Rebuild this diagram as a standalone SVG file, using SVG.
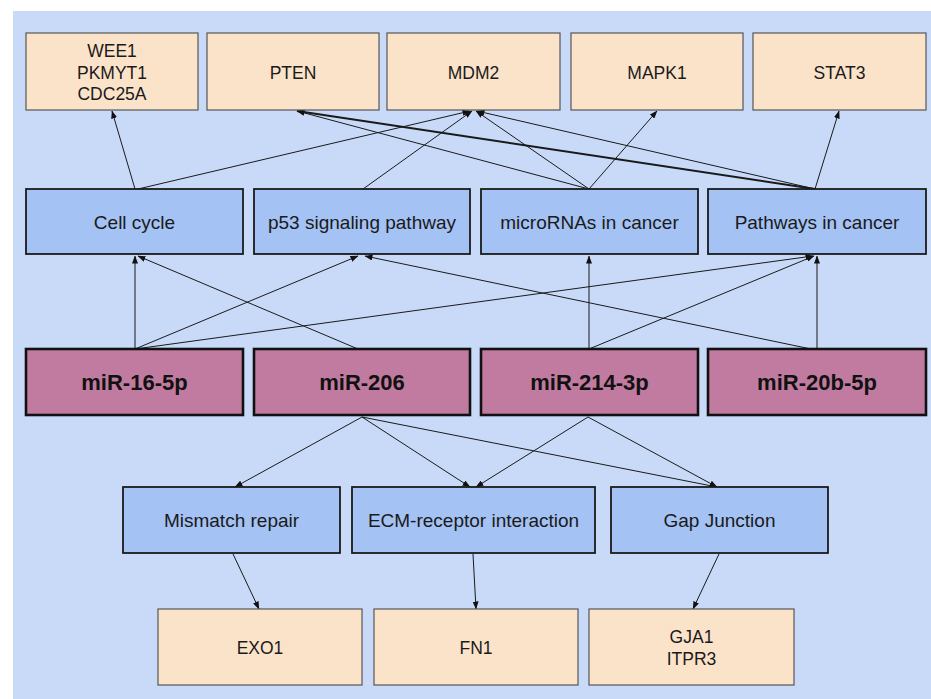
<svg xmlns="http://www.w3.org/2000/svg" width="931" height="699" viewBox="0 0 931 699">
<defs>
<marker id="ah" markerWidth="8" markerHeight="6" refX="7.5" refY="3" orient="auto" markerUnits="userSpaceOnUse">
<path d="M0,0 L8,3 L0,6 z" fill="#111"/>
</marker>
<style>
.gene{fill:#fbe3ca;stroke:#555;stroke-width:1.2}
.path{fill:#a4c2f4;stroke:#1a1a1a;stroke-width:1.8}
.mir{fill:#c27ba0;stroke:#111;stroke-width:2.6}
.tg{font-family:"Liberation Sans",Arial,sans-serif;font-size:17.5px;fill:#1a1a1a;text-anchor:middle}
.tp{font-family:"Liberation Sans",Arial,sans-serif;font-size:19px;fill:#1a1a1a;text-anchor:middle}
.tm{font-family:"Liberation Sans",Arial,sans-serif;font-size:22px;font-weight:bold;fill:#111;text-anchor:middle}
#edges line{stroke:#1a1a1a;stroke-width:1;marker-end:url(#ah)}
</style>
</defs>
<rect x="0" y="0" width="931" height="699" fill="#ffffff"/>
<rect x="13" y="11" width="918" height="688" fill="#c9daf8"/>

<g id="edges">
<line x1="135" y1="189" x2="112" y2="111"/>
<line x1="138" y1="189" x2="470" y2="111"/>
<line x1="363" y1="189" x2="472" y2="111"/>
<line x1="589" y1="189" x2="476" y2="111"/>
<line x1="589" y1="189" x2="657" y2="111"/>
<line x1="589" y1="189" x2="297" y2="111"/>
<line x1="815" y1="189" x2="297" y2="111" style="stroke-width:2"/>
<line x1="815" y1="189" x2="477" y2="111"/>
<line x1="815" y1="189" x2="839" y2="111"/>
<line x1="135" y1="349" x2="135" y2="256"/>
<line x1="135" y1="349" x2="358" y2="256"/>
<line x1="135" y1="349" x2="813" y2="256"/>
<line x1="358" y1="349" x2="138" y2="256"/>
<line x1="589" y1="349" x2="589" y2="256"/>
<line x1="589" y1="349" x2="814" y2="256"/>
<line x1="811" y1="349" x2="365" y2="256"/>
<line x1="817" y1="349" x2="817" y2="256"/>
<line x1="362" y1="417" x2="235" y2="487"/>
<line x1="362" y1="417" x2="470" y2="487"/>
<line x1="362" y1="417" x2="717" y2="487"/>
<line x1="588" y1="417" x2="476" y2="487"/>
<line x1="588" y1="417" x2="717" y2="487"/>
<line x1="233" y1="554" x2="259" y2="609"/>
<line x1="473" y1="554" x2="476" y2="609"/>
<line x1="719" y1="554" x2="693" y2="609"/>
</g>

<g id="n-wee1"><rect class="gene" x="26" y="33" width="172" height="77"/><text class="tg" x="112" y="57">WEE1</text><text class="tg" x="112" y="79">PKMYT1</text><text class="tg" x="112" y="100">CDC25A</text></g>
<g id="n-pten"><rect class="gene" x="207" y="33" width="172" height="77"/><text class="tg" x="293" y="79">PTEN</text></g>
<g id="n-mdm2"><rect class="gene" x="387" y="33" width="173" height="77"/><text class="tg" x="473.5" y="79">MDM2</text></g>
<g id="n-mapk1"><rect class="gene" x="571" y="33" width="172" height="77"/><text class="tg" x="657" y="79">MAPK1</text></g>
<g id="n-stat3"><rect class="gene" x="753" y="33" width="173" height="77"/><text class="tg" x="839.5" y="79">STAT3</text></g>

<g id="n-cellcycle"><rect class="path" x="26" y="189" width="217" height="65"/><text class="tp" x="134.5" y="229">Cell cycle</text></g>
<g id="n-p53"><rect class="path" x="254" y="189" width="216" height="65"/><text class="tp" x="362" y="229">p53 signaling pathway</text></g>
<g id="n-micrornas"><rect class="path" x="481" y="189" width="217" height="65"/><text class="tp" x="589.5" y="229">microRNAs in cancer</text></g>
<g id="n-pathways"><rect class="path" x="708" y="189" width="218" height="65"/><text class="tp" x="817" y="229">Pathways in cancer</text></g>

<g id="n-mir16"><rect class="mir" x="26" y="349" width="217" height="66"/><text class="tm" x="134.5" y="390">miR-16-5p</text></g>
<g id="n-mir206"><rect class="mir" x="254" y="349" width="216" height="66"/><text class="tm" x="362" y="390">miR-206</text></g>
<g id="n-mir214"><rect class="mir" x="481" y="349" width="217" height="66"/><text class="tm" x="589.5" y="390">miR-214-3p</text></g>
<g id="n-mir20b"><rect class="mir" x="708" y="349" width="218" height="66"/><text class="tm" x="817" y="390">miR-20b-5p</text></g>

<g id="n-mismatch"><rect class="path" x="123" y="487" width="217" height="66"/><text class="tp" x="231.5" y="527">Mismatch repair</text></g>
<g id="n-ecm"><rect class="path" x="352" y="487" width="243" height="66"/><text class="tp" x="473.5" y="527">ECM-receptor interaction</text></g>
<g id="n-gap"><rect class="path" x="611" y="487" width="217" height="66"/><text class="tp" x="719.5" y="527">Gap Junction</text></g>

<g id="n-exo1"><rect class="gene" x="158" y="609" width="204" height="76"/><text class="tg" x="260" y="654">EXO1</text></g>
<g id="n-fn1"><rect class="gene" x="374" y="609" width="204" height="76"/><text class="tg" x="476" y="654">FN1</text></g>
<g id="n-gja1"><rect class="gene" x="589" y="609" width="205" height="76"/><text class="tg" x="691.5" y="643">GJA1</text><text class="tg" x="691.5" y="665">ITPR3</text></g>
</svg>
